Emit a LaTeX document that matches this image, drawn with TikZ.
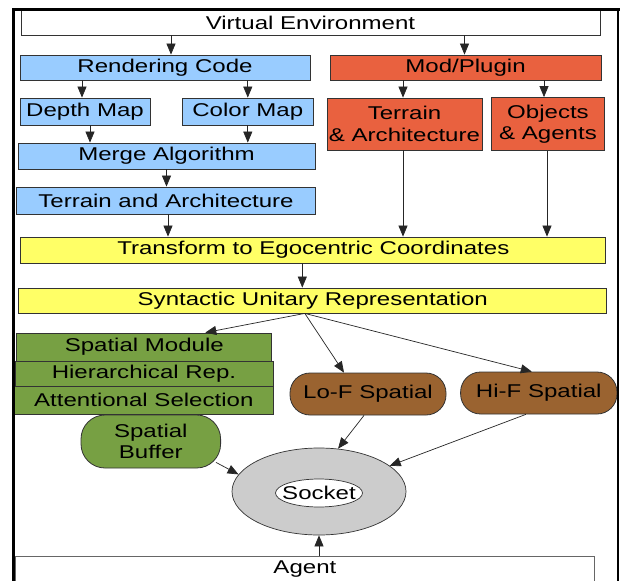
\documentclass[tikz,border=0pt]{standalone}
\usepackage{fontspec}
\setmainfont{Liberation Sans}[FakeStretch=1.3]
\usetikzlibrary{arrows.meta,shapes.geometric,calc}
\definecolor{cblue}{HTML}{99CCFF}
\definecolor{cred}{HTML}{E9613F}
\definecolor{cyel}{HTML}{FFFF66}
\definecolor{cgreen}{HTML}{77A043}
\definecolor{cbrown}{HTML}{9A6330}
\definecolor{cgray}{HTML}{CCCCCC}
\newcommand\dfont{\fontsize{18.5}{21.5}\selectfont}
\begin{document}
\begin{tikzpicture}[x=1pt,y=-1pt,
  box/.style={draw=black!80,line width=0.8pt,inner sep=0pt,font=\dfont,align=center},
  bluebox/.style={box,fill=cblue},
  redbox/.style={box,fill=cred},
  yelbox/.style={box,fill=cyel},
  greenbox/.style={box,fill=cgreen},
  pill/.style={box,rounded corners=20pt},
  arr/.style={draw=black!85,line width=0.7pt,-{Triangle[length=11pt,width=9pt]}}
]
\useasboundingbox (0,0) rectangle (620,580);
\clip (0,0) rectangle (620,580);
\fill[white] (0,0) rectangle (620,580);

% nodes
\node[box,fill=white,minimum width=579,minimum height=25] (ve) at (310.5,22.5) {Virtual Environment};
\node[bluebox,minimum width=290,minimum height=25] (rc) at (165,67.5) {Rendering Code};
\node[redbox,minimum width=271,minimum height=25] (mod) at (465.5,67.5) {Mod/Plugin};
\node[bluebox,minimum width=130,minimum height=27] (depth) at (85,111.5) {Depth Map};
\node[bluebox,minimum width=131,minimum height=27] (color) at (247.8,111.5) {Color Map};
\node[bluebox,minimum width=297,minimum height=26] (merge) at (166.5,156) {Merge Algorithm};
\node[bluebox,minimum width=299,minimum height=27] (ta) at (166,200.5) {Terrain and Architecture};
\node[redbox,minimum width=155,minimum height=52] (terr) at (404.5,124) {Terrain\\\& Architecture};
\node[redbox,minimum width=112.5,minimum height=53] (obj) at (548,124) {Objects\\\& Agents};
\node[yelbox,minimum width=585,minimum height=26] (tr) at (313.3,250) {Transform to Egocentric Coordinates};
\node[yelbox,minimum width=588,minimum height=25] (syn) at (312.8,300.5) {Syntactic Unitary Representation};
\node[greenbox,minimum width=255,minimum height=28] (sm) at (144.3,347) {Spatial Module};
\node[greenbox,minimum width=258,minimum height=25] (hr) at (144,373.5) {Hierarchical Rep.};
\node[greenbox,minimum width=260,minimum height=28] (att) at (143.8,400) {Attentional Selection};
\node[greenbox,rounded corners=24pt,minimum width=139.6,minimum height=53] (buf) at (150.8,441.5) {Spatial\\Buffer};
\node[pill,fill=cbrown,minimum width=156,minimum height=42] (lof) at (368,394) {Lo-F Spatial};
\node[pill,fill=cbrown,minimum width=156.4,minimum height=42] (hif) at (538.8,393) {Hi-F Spatial};
\node[ellipse,draw=black!80,line width=0.7pt,fill=cgray,minimum width=174,minimum height=87,inner sep=0pt] (sock) at (319,491.5) {};
\node[ellipse,draw=black!80,line width=0.7pt,fill=white,minimum width=87,minimum height=28,inner sep=0pt] (sockin) at (319,493) {};
\node[font=\dfont,inner sep=0pt] (socktxt) at (sockin) {Socket};
\node[box,draw=black!60,fill=white,minimum width=579,minimum height=26,anchor=north west] (agent) at (15,556) {Agent};

% frame
\draw[line width=3pt] (13.5,585) -- (13.5,10) -- (625,10);
\draw[line width=1.2pt] (618,10) -- (618,585);

% connectors
\draw[arr] ([xshift=6pt]rc.north |- ve.south) -- ([xshift=6pt]rc.north);
\draw[arr] ([xshift=-1pt]mod.north |- ve.south) -- ([xshift=-1pt]mod.north);
\draw[arr] ([xshift=-3pt]depth.north |- rc.south) -- ([xshift=-3pt]depth.north);
\draw[arr] (color.north |- rc.south) -- (color.north);
\draw[arr] ([xshift=5pt]depth.south) -- ([xshift=5pt]depth.south |- merge.north);
\draw[arr] (color.south) -- (color.south |- merge.north);
\draw[arr] (merge.south) -- (merge.south |- ta.north);
\draw[arr] ([xshift=-1.5pt]terr.north |- mod.south) -- ([xshift=-1.5pt]terr.north);
\draw[arr] ([xshift=-4pt]obj.north |- mod.south) -- ([xshift=-4pt]obj.north);
\draw[arr] ([xshift=2pt]ta.south) -- ([xshift=2pt]ta.south |- tr.north);
\draw[arr] ([xshift=-1.5pt]terr.south) -- ([xshift=-1.5pt]terr.south |- tr.north);
\draw[arr] ([xshift=-1pt]obj.south) -- ([xshift=-1pt]obj.south |- tr.north);
\draw[arr] ([xshift=-11pt]tr.south) -- ([xshift=-11pt]tr.south |- syn.north);
\draw[arr] ([xshift=-8pt]syn.south) -- ([xshift=61pt]sm.north);
\draw[arr] ([xshift=-8pt]syn.south) -- ([xshift=-24pt]lof.north);
\draw[arr] ([xshift=-8pt]syn.south) -- ([xshift=-7pt]hif.north);
\draw[arr] ([shift={(-5,-6)}]buf.south east) -- (sock.168);
\draw[arr] ([xshift=-4pt]lof.south) -- (sock.66);
\draw[arr] ([xshift=-13pt]hif.south) -- (sock.20);
\draw[arr] (agent.north -| sock.south) -- (sock.south);
\end{tikzpicture}
\end{document}
